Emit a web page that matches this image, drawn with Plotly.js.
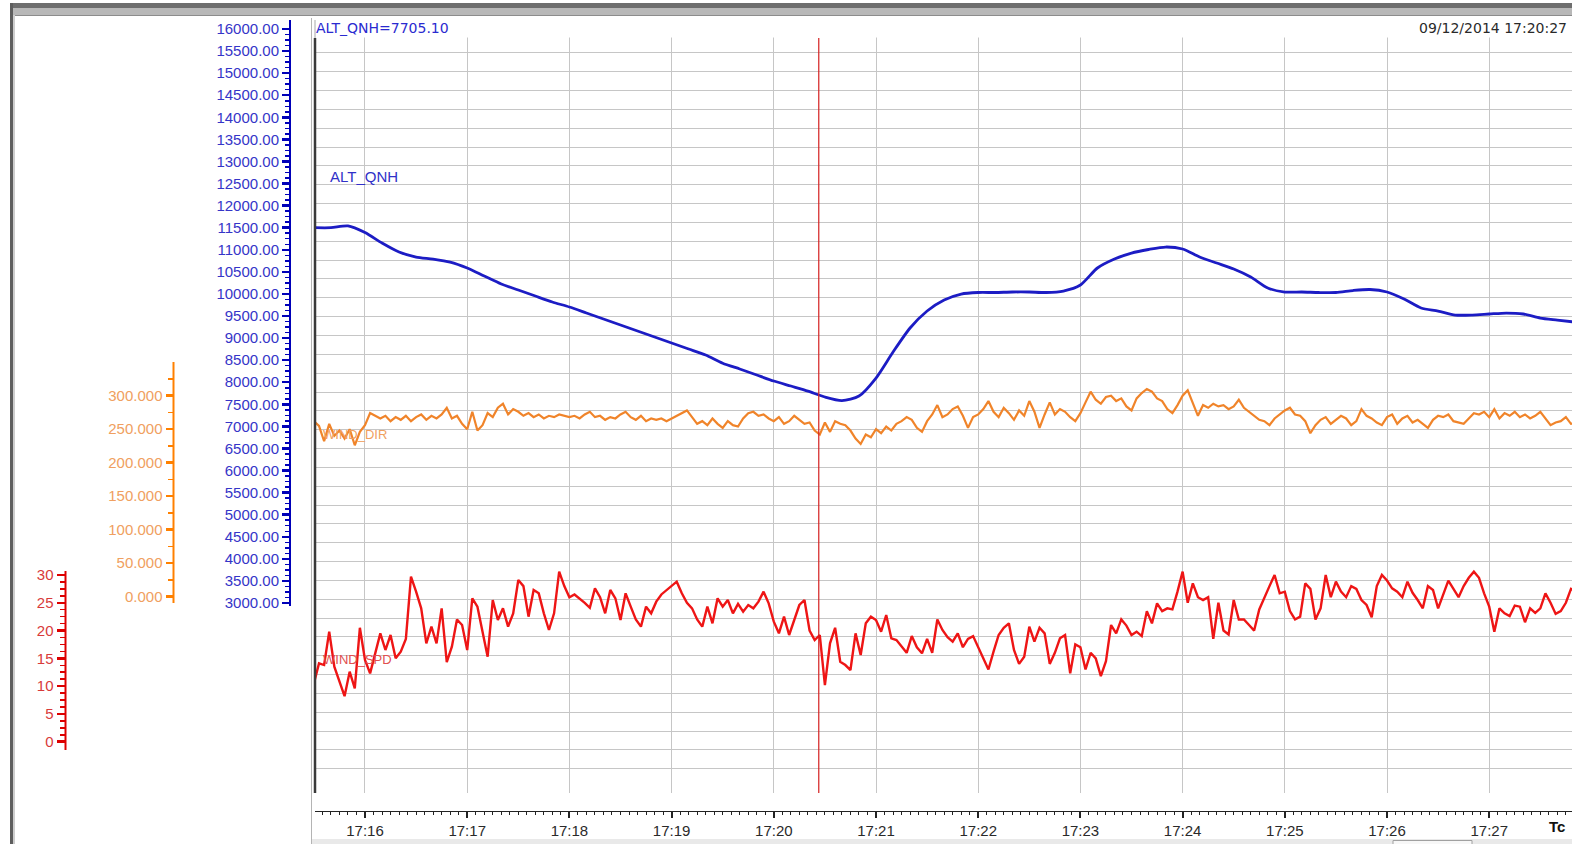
<!DOCTYPE html>
<html>
<head>
<meta charset="utf-8">
<script src="https://cdn.plot.ly/plotly-3.0.1.min.js"></script>
<style>
html,body{margin:0;padding:0;background:#ffffff;overflow:hidden;}
#chart{width:1572px;height:844px;}
</style>
</head>
<body>
<div id="chart"></div>
<script>
// ---------------- data ----------------
const DAY = '2014-12-09';
const SERIES_START = '17:15:30';
const ALT_STEP_S = 10;
const WIND_STEP_S = 3;
const CURSOR_TIME = '17:20:26.4';
const HEADER_VALUE = 'ALT_QNH=7705.10';
const HEADER_DATE = '09/12/2014 17:20:27';
const X_RANGE = ['17:15:30.65', '17:27:48.6'];

// ALT_QNH (ft), one value every 10 s from 17:15:30
const altQnh = [
  11500, 11500, 11540, 11390, 11153, 10949, 10836, 10790, 10722, 10587,
  10405, 10224, 10088, 9952, 9817, 9703, 9567, 9431, 9296, 9160,
  9024, 8888, 8752, 8616, 8430, 8300, 8163, 8027, 7914, 7800,
  7665, 7585, 7687, 8095, 8684, 9228, 9613, 9862, 9998, 10032,
  10032, 10043, 10043, 10032, 10066, 10202, 10587, 10790, 10926, 11006,
  11062, 11017, 10836, 10700, 10564, 10383, 10134, 10043, 10043, 10032,
  10032, 10077, 10100, 10043, 9885, 9681, 9613, 9522, 9522, 9545,
  9567, 9545, 9454, 9409, 9364
];

// WIND_DIR (deg), one value every 3 s from 17:15:30
const windDir = [
  262, 255, 232, 258, 240, 248, 236, 250, 226, 246,
  256, 274, 270, 266, 270, 262, 268, 264, 270, 262, 268, 272, 264, 270, 266, 272, 282, 266, 270, 258,
  250, 276, 248, 256, 274, 268, 282, 288, 272, 280, 276, 270, 274, 268, 272, 266, 270, 268, 272, 270,
  268, 270, 266, 272, 276, 268, 270, 264, 268, 266, 272, 276, 268, 264, 270, 262, 266, 264, 266, 262,
  266, 270, 274, 278, 268, 258, 262, 256, 266, 258, 252, 262, 256, 254, 266, 274, 276, 270, 272, 266,
  262, 268, 258, 262, 270, 264, 258, 260, 248, 242, 260, 246, 262, 258, 256, 248, 236, 228, 242, 238,
  250, 244, 254, 248, 258, 262, 268, 264, 252, 246, 262, 272, 286, 268, 272, 280, 284, 270, 252, 268,
  272, 280, 292, 276, 268, 282, 274, 264, 278, 270, 292, 276, 252, 272, 290, 272, 280, 276, 268, 262,
  274, 290, 306, 294, 288, 298, 300, 292, 296, 284, 278, 296, 304, 310, 306, 296, 292, 280, 274, 286,
  300, 308, 290, 270, 286, 282, 288, 284, 286, 280, 284, 294, 282, 276, 270, 264, 262, 256, 266, 272,
  278, 282, 272, 270, 262, 244, 256, 264, 268, 258, 264, 270, 266, 256, 262, 280, 270, 266, 260, 256,
  268, 272, 258, 266, 270, 260, 264, 258, 252, 264, 270, 268, 272, 262, 260, 258, 266, 274, 272, 276,
  268, 280, 266, 274, 270, 276, 268, 272, 266, 270, 276, 266, 256, 260, 262, 268, 258, 260
];

// WIND_SPD (kt), one value every 3 s from 17:15:30
const windSpd = [
  10.5, 14.1, 13.8, 19.8, 13.5, 10.8, 8.2, 12.6, 9.6, 20.5,
  14.7, 12.3, 15.9, 19.5, 16.5, 19.2, 15.0, 16.2, 18.5, 29.7, 27.0, 24.0, 17.7, 20.7, 17.7, 24.0, 14.3, 17.1, 22.0, 21.0,
  16.5, 25.8, 24.3, 19.5, 15.3, 25.5, 21.9, 24.0, 20.7, 23.1, 29.1, 28.0, 22.5, 27.3, 26.7, 23.1, 20.1, 23.1, 30.6, 28.0,
  26.0, 26.5, 25.8, 25.0, 24.1, 27.6, 26.0, 23.1, 27.3, 25.8, 21.9, 26.7, 24.3, 22.0, 20.7, 24.3, 23.1, 25.2, 26.5, 27.3,
  28.0, 28.8, 26.7, 25.0, 24.0, 22.0, 20.7, 24.3, 21.3, 25.8, 24.3, 25.5, 23.1, 24.8, 23.4, 24.6, 24.0, 25.2, 27.0, 24.9,
  21.6, 19.5, 22.5, 19.2, 21.9, 24.6, 25.5, 20.0, 18.3, 19.2, 10.2, 17.7, 20.5, 14.4, 13.8, 12.9, 19.5, 15.6, 21.3, 22.5,
  21.9, 19.8, 22.8, 18.6, 18.3, 17.1, 16.0, 19.0, 17.0, 15.9, 18.5, 16.0, 22.0, 20.1, 18.8, 18.0, 19.5, 17.0, 18.5, 19.0,
  17.1, 15.0, 13.0, 16.2, 19.2, 20.5, 21.3, 16.5, 14.0, 15.3, 20.7, 18.0, 20.5, 19.5, 14.0, 16.0, 18.6, 19.2, 12.3, 17.5,
  17.0, 13.0, 16.0, 15.0, 11.8, 14.5, 21.0, 19.5, 22.0, 20.9, 19.2, 19.8, 19.0, 23.5, 21.3, 24.9, 23.5, 24.0, 23.8, 27.0,
  30.6, 25.0, 28.5, 26.0, 25.5, 26.0, 18.5, 25.0, 20.0, 19.3, 25.5, 22.0, 22.0, 21.0, 20.0, 23.8, 26.0, 28.0, 30.0, 26.7,
  27.0, 23.5, 22.0, 22.5, 28.5, 27.5, 22.0, 24.0, 30.0, 26.0, 28.8, 27.0, 26.0, 28.0, 27.5, 25.5, 24.6, 22.4, 28.0, 30.0,
  29.0, 27.6, 27.0, 26.0, 28.8, 26.8, 25.5, 24.0, 28.0, 27.3, 24.0, 26.5, 29.0, 27.5, 26.0, 28.0, 29.5, 30.6, 29.5, 26.7,
  24.3, 19.8, 24.0, 23.1, 22.6, 24.5, 24.3, 21.5, 24.0, 23.2, 24.0, 26.7, 25.0, 23.0, 23.5, 25.0, 27.5, 27.0
];

// axis tick labels
const altTicks = [3000,3500,4000,4500,5000,5500,6000,6500,7000,7500,8000,8500,9000,9500,10000,10500,11000,11500,12000,12500,13000,13500,14000,14500,15000,15500,16000];
const dirTicks = [0,50,100,150,200,250,300];
const spdTicks = [0,5,10,15,20,25,30];

// ---------------- helpers ----------------
const W = 1572, H = 844;
const px = v => v / W;          // pixel -> paper x
const py = v => 1 - v / H;      // pixel -> paper y
function stamp(hms){ return DAY + ' ' + hms; }
function timesFrom(start, stepS, n){
  const base = new Date(DAY + 'T' + start + 'Z').getTime();
  const out = [];
  for (let i = 0; i < n; i++){
    out.push(new Date(base + i*stepS*1000).toISOString().replace('T',' ').replace('Z',''));
  }
  return out;
}
function minorBetween(ticks, step, extraAbove){
  const out = [];
  const lo = ticks[0], hi = ticks[ticks.length-1] + (extraAbove||0);
  const major = ticks[1]-ticks[0];
  for (let v = lo; v <= hi + 1e-9; v += step){
    const r = ((v - lo) % major + major) % major;
    if (Math.abs(r) > 1e-6 && Math.abs(r - major) > 1e-6) out.push(+v.toFixed(4));
  }
  return out;
}

const altTimes = timesFrom(SERIES_START, ALT_STEP_S, altQnh.length);
const windTimes = timesFrom(SERIES_START, WIND_STEP_S, windDir.length);

// ---------------- geometry of the panel (pixels) ----------------
const PLOT_TOP = 20, PLOT_BOTTOM = 793, PLOT_LEFT = 315;
const GRID_TOP_PX = 52.9, GRID_STEP_PX = 18.84;  // horizontal grid lines
const gridVals = []; for (let k = 0; k <= 38; k++) gridVals.push(k);
const Y_DOMAIN = [py(PLOT_BOTTOM), py(PLOT_TOP)];
function linRange(v1, p1, v2, p2){ // value at PLOT_BOTTOM and PLOT_TOP
  const s = (p2 - p1) / (v2 - v1);
  return [v1 + (PLOT_BOTTOM - p1)/s, v1 + (PLOT_TOP - p1)/s];
}

const BLUE = '#1c1cc4', ORANGE = '#f0842a', RED = '#ee1515';

const traces = [
  // empty trace that anchors the base (grid) subplot
  {x: [], y: [], type:'scatter', mode:'lines', xaxis:'x', yaxis:'y', hoverinfo:'skip', showlegend:false},
  {x: altTimes, y: altQnh, type:'scatter', mode:'lines', yaxis:'y2',
   line:{color:BLUE, width:2.8, shape:'spline', smoothing:0.7}, hoverinfo:'skip'},
  {x: windTimes, y: windDir, type:'scatter', mode:'lines', yaxis:'y3',
   line:{color:ORANGE, width:2.2}, hoverinfo:'skip'},
  {x: windTimes, y: windSpd, type:'scatter', mode:'lines', yaxis:'y4',
   line:{color:RED, width:2.4}, hoverinfo:'skip'}
];

const labelFont = (c) => ({family:'Liberation Sans, Arial, sans-serif', size:15, color:c});

const layout = {
  width: W, height: H,
  margin:{l:0, r:0, t:0, b:0, pad:0},
  paper_bgcolor:'#ffffff', plot_bgcolor:'rgba(0,0,0,0)',
  showlegend:false,
  xaxis:{
    type:'date', domain:[px(PLOT_LEFT), 1],
    range:[stamp(X_RANGE[0]), stamp(X_RANGE[1])],
    anchor:'free', position: py(811),
    showline:true, linecolor:'#222', linewidth:1,
    ticks:'outside', ticklen:6, tickwidth:2, tickcolor:'#222',
    tickmode:'linear', tick0: stamp('17:16:00'), dtick:60000, tickformat:'%H:%M',
    tickfont: labelFont('#2a2a2a'),
    showgrid:true, gridcolor:'#c6c6c6', gridwidth:1, zeroline:false,
    minor:{tick0: stamp('17:16:00'), dtick:5000, ticks:'outside', ticklen:3, tickwidth:1, tickcolor:'#222', showgrid:false},
    fixedrange:true
  },
  yaxis:{
    domain:Y_DOMAIN,
    range:[(PLOT_BOTTOM-GRID_TOP_PX)/GRID_STEP_PX, (PLOT_TOP-GRID_TOP_PX)/GRID_STEP_PX],
    tickmode:'array', tickvals:gridVals, showticklabels:false, ticks:'',
    showgrid:true, gridcolor:'#c6c6c6', gridwidth:1, zeroline:false, showline:false, fixedrange:true
  },
  yaxis2:{
    overlaying:'y', anchor:'free', position:px(290), side:'left', domain:Y_DOMAIN,
    range: linRange(3000, 603, 16000, 29),
    tickmode:'array', tickvals:altTicks, tickformat:'.2f',
    ticks:'outside', ticklen:8, tickwidth:2.5, tickcolor:'#0000b8',
    tickfont: labelFont('#3535c8'),
    minor:{tickmode:'array', tickvals:minorBetween(altTicks,125), ticks:'outside', ticklen:5, tickwidth:1.5, tickcolor:'#0000b8'},
    showgrid:false, zeroline:false, showline:false, fixedrange:true
  },
  yaxis3:{
    overlaying:'y', anchor:'free', position:px(173.5), side:'left', domain:Y_DOMAIN,
    range: linRange(0, 596.7, 300, 395.7),
    tickmode:'array', tickvals:dirTicks, tickformat:'.3f',
    ticks:'outside', ticklen:8, tickwidth:2.5, tickcolor:'#ff8000',
    tickfont: labelFont('#f0a060'),
    minor:{tickmode:'array', tickvals:minorBetween(dirTicks,25,25), ticks:'outside', ticklen:6, tickwidth:1.5, tickcolor:'#ff8000'},
    showgrid:false, zeroline:false, showline:false, fixedrange:true
  },
  yaxis4:{
    overlaying:'y', anchor:'free', position:px(65.5), side:'left', domain:Y_DOMAIN,
    range: linRange(0, 741.7, 30, 575),
    tickmode:'array', tickvals:spdTicks, tickformat:'d',
    ticks:'outside', ticklen:9, tickwidth:2.5, tickcolor:'#dd0000',
    tickfont: labelFont('#d83a3a'),
    minor:{tickmode:'array', tickvals:minorBetween(spdTicks,1.25), ticks:'outside', ticklen:6, tickwidth:1.5, tickcolor:'#dd0000'},
    showgrid:false, zeroline:false, showline:false, fixedrange:true
  },
  shapes:[
    // window frame
    {type:'rect', xref:'paper', yref:'paper', x0:px(10), x1:1, y0:py(8), y1:py(3), fillcolor:'#6e6e6e', line:{width:0}, layer:'above'},
    {type:'rect', xref:'paper', yref:'paper', x0:px(10), x1:1, y0:py(15), y1:py(8), fillcolor:'#b8b8b8', line:{width:0}, layer:'above'},
    {type:'line', xref:'paper', yref:'paper', x0:px(15), x1:1, y0:py(15.5), y1:py(15.5), line:{color:'#8c8c8c', width:1}, layer:'above'},
    {type:'rect', xref:'paper', yref:'paper', x0:px(10), x1:px(13), y0:0, y1:py(3), fillcolor:'#5e5e5e', line:{width:0}, layer:'above'},
    {type:'rect', xref:'paper', yref:'paper', x0:px(13), x1:px(15), y0:0, y1:py(15), fillcolor:'#cdcdcd', line:{width:0}, layer:'above'},
    // strip above the grid (header area)
    {type:'rect', xref:'paper', yref:'paper', x0:px(316.5), x1:1, y0:py(37.5), y1:py(PLOT_TOP), fillcolor:'#ffffff', line:{width:0}, layer:'above'},
    // plot left borders
    {type:'line', xref:'paper', yref:'paper', x0:px(311.5), x1:px(311.5), y0:0, y1:py(18), line:{color:'#b4b4b4', width:1}, layer:'above'},
    {type:'line', xref:'paper', yref:'paper', x0:px(315), x1:px(315), y0:py(PLOT_BOTTOM), y1:py(38), line:{color:'#3a3a3a', width:2.5}, layer:'above'},
    {type:'line', xref:'paper', yref:'paper', x0:px(315), x1:px(315), y0:py(38), y1:py(PLOT_TOP), line:{color:'#a8a8a8', width:1}, layer:'above'},
    // axis spines
    {type:'line', xref:'paper', yref:'paper', x0:px(290), x1:px(290), y0:py(606), y1:py(20), line:{color:'#0000b8', width:2}, layer:'above'},
    {type:'line', xref:'paper', yref:'paper', x0:px(173.5), x1:px(173.5), y0:py(603), y1:py(362), line:{color:'#ff8000', width:2}, layer:'above'},
    {type:'line', xref:'paper', yref:'paper', x0:px(65.5), x1:px(65.5), y0:py(750), y1:py(571), line:{color:'#dd0000', width:2}, layer:'above'},
    // cursor
    {type:'line', xref:'x', yref:'paper', x0:stamp(CURSOR_TIME), x1:stamp(CURSOR_TIME), y0:py(PLOT_BOTTOM), y1:py(38), line:{color:'#d42020', width:1.2}, layer:'above'},
    // bottom scrollbar strip
    {type:'rect', xref:'paper', yref:'paper', x0:px(312), x1:1, y0:0, y1:py(839), fillcolor:'#e9e9e9', line:{width:0}, layer:'above'},
    {type:'rect', xref:'paper', yref:'paper', x0:px(1393), x1:px(1472), y0:py(846), y1:py(840.5), fillcolor:'#f7f7f7', line:{color:'#a0a0a0', width:1}, layer:'above'}
  ],
  annotations:[
    {text:HEADER_VALUE, xref:'paper', yref:'paper', x:px(314), y:py(28), xanchor:'left', yanchor:'middle', showarrow:false,
     font:{family:'DejaVu Sans, Verdana, sans-serif', size:14, color:'#2a2ad0'}},
    {text:HEADER_DATE, xref:'paper', yref:'paper', x:px(1569), y:py(28), xanchor:'right', yanchor:'middle', showarrow:false,
     font:{family:'DejaVu Sans, Verdana, sans-serif', size:14, color:'#2a2a2a'}},
    {text:'ALT_QNH', xref:'paper', yref:'paper', x:px(328), y:py(177), xanchor:'left', yanchor:'middle', showarrow:false,
     font:{family:'Liberation Sans, Arial, sans-serif', size:15, color:'#3030c8'}},
    {text:'WIND_DIR', xref:'paper', yref:'paper', x:px(321), y:py(434), xanchor:'left', yanchor:'middle', showarrow:false,
     font:{family:'Liberation Sans, Arial, sans-serif', size:13, color:'#f0a060'}},
    {text:'WIND_SPD', xref:'paper', yref:'paper', x:px(321), y:py(659), xanchor:'left', yanchor:'middle', showarrow:false,
     font:{family:'Liberation Sans, Arial, sans-serif', size:13, color:'#e05050'}},
    {text:'<b>Tc</b>', xref:'paper', yref:'paper', x:px(1547), y:py(826), xanchor:'left', yanchor:'middle', showarrow:false,
     font:{family:'Liberation Sans, Arial, sans-serif', size:15, color:'#111'}}
  ]
};

Plotly.newPlot('chart', traces, layout, {staticPlot:true, displayModeBar:false});
</script>
</body>
</html>
